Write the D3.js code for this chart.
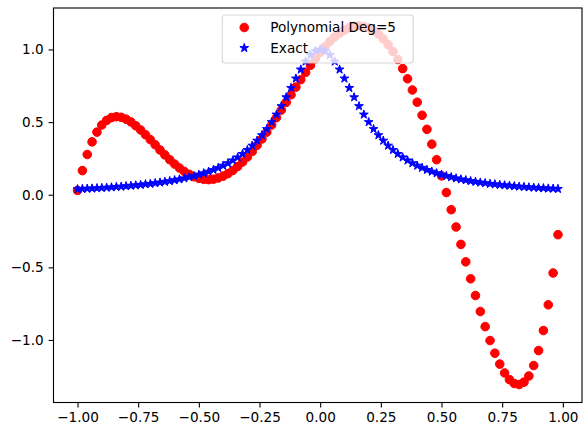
<!DOCTYPE html>
<html><head><meta charset="utf-8">
<script src="https://cdn.jsdelivr.net/npm/d3@7"></script>
<style>
  body { margin: 0; background: #fff; }
  svg { display: block; }
  text { font-family: "DejaVu Sans", sans-serif; }
</style>
</head><body>
<svg width="584" height="428"></svg>
<script>
// sample points, x from -1 in steps of 0.02
var xs = [-1.00,-0.98,-0.96,-0.94,-0.92,-0.90,-0.88,-0.86,-0.84,-0.82,
          -0.80,-0.78,-0.76,-0.74,-0.72,-0.70,-0.68,-0.66,-0.64,-0.62,
          -0.60,-0.58,-0.56,-0.54,-0.52,-0.50,-0.48,-0.46,-0.44,-0.42,
          -0.40,-0.38,-0.36,-0.34,-0.32,-0.30,-0.28,-0.26,-0.24,-0.22,
          -0.20,-0.18,-0.16,-0.14,-0.12,-0.10,-0.08,-0.06,-0.04,-0.02,
           0.00, 0.02, 0.04, 0.06, 0.08, 0.10, 0.12, 0.14, 0.16, 0.18,
           0.20, 0.22, 0.24, 0.26, 0.28, 0.30, 0.32, 0.34, 0.36, 0.38,
           0.40, 0.42, 0.44, 0.46, 0.48, 0.50, 0.52, 0.54, 0.56, 0.58,
           0.60, 0.62, 0.64, 0.66, 0.68, 0.70, 0.72, 0.74, 0.76, 0.78,
           0.80, 0.82, 0.84, 0.86, 0.88, 0.90, 0.92, 0.94, 0.96, 0.98];

// red dots, degree 5 polynomial
var polyVals = [0.030,0.166,0.277,0.364,0.431,0.480,0.512,0.531,0.537,0.533,
                0.520,0.501,0.475,0.446,0.413,0.379,0.344,0.308,0.274,0.241,
                0.211,0.184,0.160,0.140,0.124,0.113,0.106,0.104,0.107,0.115,
                0.128,0.145,0.167,0.194,0.225,0.260,0.298,0.340,0.384,0.431,
                0.480,0.531,0.583,0.636,0.688,0.741,0.792,0.842,0.891,0.936,
                0.979,1.019,1.055,1.086,1.112,1.133,1.149,1.159,1.162,1.158,
                1.148,1.130,1.106,1.073,1.033,0.986,0.931,0.868,0.798,0.721,
                0.637,0.547,0.450,0.348,0.241,0.130,0.015,-0.103,-0.222,-0.342,
                -0.462,-0.579,-0.694,-0.804,-0.908,-1.004,-1.091,-1.166,-1.227,-1.273,
                -1.300,-1.307,-1.290,-1.248,-1.176,-1.073,-0.935,-0.758,-0.539,-0.275];

// blue stars, exact curve
var exactVals = [0.038,0.040,0.042,0.043,0.045,0.047,0.049,0.051,0.054,0.056,
                 0.059,0.062,0.065,0.068,0.072,0.075,0.080,0.084,0.089,0.094,
                 0.100,0.106,0.113,0.121,0.129,0.138,0.148,0.159,0.171,0.185,
                 0.200,0.217,0.236,0.257,0.281,0.308,0.338,0.372,0.410,0.452,
                 0.500,0.552,0.610,0.671,0.735,0.800,0.862,0.917,0.962,0.990,
                 1.000,0.990,0.962,0.917,0.862,0.800,0.735,0.671,0.610,0.552,
                 0.500,0.452,0.410,0.372,0.338,0.308,0.281,0.257,0.236,0.217,
                 0.200,0.185,0.171,0.159,0.148,0.138,0.129,0.121,0.113,0.106,
                 0.100,0.094,0.089,0.084,0.080,0.075,0.072,0.068,0.065,0.062,
                 0.059,0.056,0.054,0.051,0.049,0.047,0.045,0.043,0.042,0.040];

var xTicks = [-1.00, -0.75, -0.50, -0.25, 0.00, 0.25, 0.50, 0.75, 1.00];
var yTicks = [-1.0, -0.5, 0.0, 0.5, 1.0];
var labels = ["Polynomial Deg=5", "Exact"];

var svg = d3.select("svg");
var box = {left: 53.5, right: 582, top: 8, bottom: 402.5};

// matplotlib style 5% margins around the data
var xExt = d3.extent(xs);
var yExt = d3.extent(polyVals.concat(exactVals));
var xPad = (xExt[1] - xExt[0]) * 0.05;
var yPad = (yExt[1] - yExt[0]) * 0.05;

var x = d3.scaleLinear()
          .domain([xExt[0] - xPad, xExt[1] + xPad])
          .range([box.left, box.right]);
var y = d3.scaleLinear()
          .domain([yExt[0] - yPad, yExt[1] + yPad])
          .range([box.bottom, box.top]);

var minus = function(s) { return s.replace("-", "\u2212"); };

// star shaped like the matplotlib '*' marker
function starPath(r) {
  var pts = [];
  for (var i = 0; i < 10; i++) {
    var rr = i % 2 === 0 ? r : r * 0.381966;
    var a = -Math.PI / 2 + i * Math.PI / 5;
    pts.push([rr * Math.cos(a), rr * Math.sin(a)]);
  }
  return "M" + pts.map(function(p) { return p[0].toFixed(2) + "," + p[1].toFixed(2); }).join("L") + "Z";
}
var star = starPath(4.6);

var plot = svg.append("g").attr("id", "plot");

// polynomial dots
plot.append("g")
    .selectAll("circle")
    .data(xs)
    .enter()
    .append("circle")
    .attr("cx", function(d) { return x(d); })
    .attr("cy", function(d, i) { return y(polyVals[i]); })
    .attr("r", 4.3)
    .style("fill", "#ff0000")
    .style("stroke", "#ff0000")
    .style("stroke-width", 1);

// exact stars
plot.append("g")
    .selectAll("path")
    .data(xs)
    .enter()
    .append("path")
    .attr("d", star)
    .attr("transform", function(d, i) { return "translate(" + x(d) + "," + y(exactVals[i]) + ")"; })
    .style("fill", "#0000ff")
    .style("stroke", "#0000ff")
    .style("stroke-width", 1)
    .style("stroke-linejoin", "miter");

// axes
var xAxis = svg.append("g")
               .attr("transform", "translate(0," + box.bottom + ")")
               .call(d3.axisBottom(x)
                       .tickValues(xTicks)
                       .tickFormat(function(d) { return minus(d3.format(".2f")(d)); })
                       .tickSize(4.9)
                       .tickPadding(4.9)
                       .tickSizeOuter(0));
var yAxis = svg.append("g")
               .attr("transform", "translate(" + box.left + ",0)")
               .call(d3.axisLeft(y)
                       .tickValues(yTicks)
                       .tickFormat(function(d) { return minus(d3.format(".1f")(d)); })
                       .tickSize(4.9)
                       .tickPadding(4.9)
                       .tickSizeOuter(0));

[xAxis, yAxis].forEach(function(a) {
  a.select(".domain").remove();
  a.selectAll(".tick line").style("stroke", "#000").style("stroke-width", 1.1);
  a.selectAll(".tick text")
   .style("font-size", "13.6px")
   .style("fill", "#000")
   .style("font-family", "'DejaVu Sans', sans-serif");
});

// frame
svg.append("rect")
   .attr("x", box.left)
   .attr("y", box.top)
   .attr("width", box.right - box.left)
   .attr("height", box.bottom - box.top)
   .style("fill", "none")
   .style("stroke", "#000")
   .style("stroke-width", 1.1);

// legend, upper center
var lg = svg.append("g").attr("id", "legend");
var lgW = 191, lgH = 48;
var lgX = (box.left + box.right) / 2 - lgW / 2;
var lgY = box.top + 7;

lg.append("rect")
  .attr("x", lgX)
  .attr("y", lgY)
  .attr("width", lgW)
  .attr("height", lgH)
  .attr("rx", 3)
  .style("fill", "#fff")
  .style("fill-opacity", 0.8)
  .style("stroke", "#cccccc")
  .style("stroke-opacity", 0.8)
  .style("stroke-width", 1.1);

var rowY = [lgY + 12.5, lgY + 33];

lg.append("circle")
  .attr("cx", lgX + 22)
  .attr("cy", rowY[0])
  .attr("r", 4.3)
  .style("fill", "#ff0000")
  .style("stroke", "#ff0000");

lg.append("path")
  .attr("d", star)
  .attr("transform", "translate(" + (lgX + 22) + "," + rowY[1] + ")")
  .style("fill", "#0000ff")
  .style("stroke", "#0000ff");

lg.selectAll("text")
  .data(labels)
  .enter()
  .append("text")
  .attr("x", lgX + 48)
  .attr("y", function(d, i) { return rowY[i]; })
  .attr("dy", "0.36em")
  .style("font-size", "13.6px")
  .style("fill", "#000")
  .text(function(d) { return d; });
</script>
</body></html>
